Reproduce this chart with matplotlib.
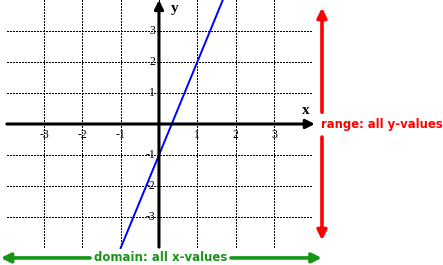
import matplotlib.pyplot as plt

# values
x_ticks = [-3, -2, -1, 1, 2, 3]
y_ticks = [-3, -2, -1, 1, 2, 3]
grid_x = [-3, -2, -1, 0, 1, 2, 3]
grid_y = [-3, -2, -1, 1, 2, 3]
line_x = [-1, 0, 1, 2]
line_y = [-4, -1, 2, 5]
range_text = "range: all y-values"
domain_text = "domain: all x-values"

green = "#169616"
red = "#ff0000"

fig = plt.figure(figsize=(4.43, 2.65), dpi=100)
ax = fig.add_axes([0, 0, 1, 1])
ax.set_xlim(-4.15, 7.415)
ax.set_ylim(-4.548, 4.0)
ax.axis("off")

lo, hi = -3.97, 4.0
ax.vlines(grid_x, lo, 4.1, colors="k", lw=0.72, linestyles=(0, (2, 2)),
          antialiased=False)
ax.hlines(grid_y, lo, hi, colors="k", lw=0.72, linestyles=(0, (2, 2)),
          antialiased=False)

# axes with arrows
ax.annotate("", xy=(4.07, 0), xytext=(lo, 0),
            arrowprops=dict(arrowstyle="-|>", color="k", lw=2.2,
                            mutation_scale=13, shrinkA=0, shrinkB=0))
ax.annotate("", xy=(0, 4.0), xytext=(0, lo),
            arrowprops=dict(arrowstyle="-|>", color="k", lw=2.2,
                            mutation_scale=13, shrinkA=0, shrinkB=0))

ax.plot(line_x, line_y, color="#0000ff", lw=1.4)

for t in x_ticks:
    ax.text(t, -0.16, str(t), ha="center", va="top", fontsize=8.5,
            family="Liberation Serif")
for t in y_ticks:
    ax.text(-0.1, t, str(t), ha="right", va="center", fontsize=8.5,
            family="Liberation Serif")
ax.text(0.4, 3.72, "y", fontsize=11, fontweight="bold",
        family="Liberation Serif", ha="center", va="center")
ax.text(3.84, 0.45, "x", fontsize=11, fontweight="bold",
        family="Liberation Serif", ha="center", va="center")

# range arrows and label
rx = 4.256
ax.annotate("", xy=(rx, 3.75), xytext=(rx, 0.38),
            arrowprops=dict(arrowstyle="-|>", color=red, lw=2.6,
                            mutation_scale=14, shrinkA=0, shrinkB=0))
ax.annotate("", xy=(rx, -3.75), xytext=(rx, -0.42),
            arrowprops=dict(arrowstyle="-|>", color=red, lw=2.6,
                            mutation_scale=14, shrinkA=0, shrinkB=0))
ax.text(rx - 0.02, 0, range_text, color=red, fontsize=8.4, fontweight="bold",
        ha="left", va="center")

# domain arrows and label
dy = -4.32
ax.annotate("", xy=(-4.13, dy), xytext=(-1.8, dy),
            arrowprops=dict(arrowstyle="-|>", color=green, lw=2.6,
                            mutation_scale=14, shrinkA=0, shrinkB=0))
ax.annotate("", xy=(4.25, dy), xytext=(1.88, dy),
            arrowprops=dict(arrowstyle="-|>", color=green, lw=2.6,
                            mutation_scale=14, shrinkA=0, shrinkB=0))
ax.text(0.04, dy, domain_text, color=green, fontsize=8.5, fontweight="bold",
        ha="center", va="center")

fig.savefig("out.png", dpi=100)
